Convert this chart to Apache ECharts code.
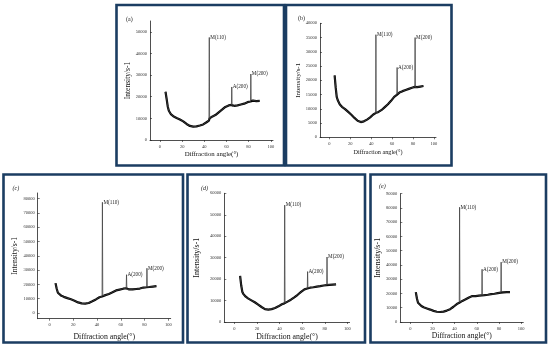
<!DOCTYPE html>
<html>
<head>
<meta charset="utf-8">
<script src="https://cdn.jsdelivr.net/npm/echarts@6/dist/echarts.min.js"></script>
<style>
html,body{margin:0;padding:0;background:#fff;}
#chart{width:550px;height:349px;}
</style>
</head>
<body>
<div id="chart"></div>
<script>
// ---- data ----
const angles = [5, 6, 7, 8, 10, 12, 15, 18, 21, 24, 27, 30, 33, 36, 39, 42, 44.2, 44.5, 44.8, 47, 50, 53, 56, 59, 62, 64.5, 64.8, 65.1, 67, 70, 73, 76, 79, 81.7, 82, 82.3, 84, 87, 90];
const intensityA = [22300, 19000, 15500, 13500, 11800, 11000, 10200, 9500, 8600, 7400, 6500, 6200, 6300, 6700, 7200, 8200, 9000, 47400, 10000, 10800, 11500, 12800, 14000, 15300, 16000, 16200, 24500, 15500, 15800, 16000, 16400, 16800, 17500, 17800, 30500, 18500, 18200, 18000, 18100];
const intensityB = [21700, 17500, 14200, 13000, 11500, 10700, 9900, 8900, 7900, 6800, 5800, 5350, 5600, 6200, 7000, 8000, 8500, 36000, 8400, 8900, 9600, 10600, 11600, 12800, 14200, 14900, 24500, 15300, 15700, 16200, 16600, 17000, 17400, 17700, 35000, 17500, 17600, 17800, 18000];
const intensityC = [20900, 17000, 14200, 13000, 12000, 11300, 10400, 9600, 8600, 7400, 6700, 6600, 7000, 8200, 9500, 11000, 11500, 77500, 12000, 12500, 13300, 14500, 15800, 16400, 17000, 17300, 26800, 16500, 16500, 16500, 16800, 17100, 17800, 18000, 31300, 18100, 18200, 18500, 18800];
const intensityD = [21500, 17000, 14000, 13000, 11800, 11000, 10100, 9200, 8100, 7000, 6000, 5800, 6000, 6500, 7300, 8300, 8700, 54500, 9000, 9500, 10400, 11500, 12700, 14000, 15200, 15600, 23500, 15900, 16000, 16200, 16500, 16700, 17000, 17200, 30300, 17400, 17300, 17400, 17500];
const intensityE = [21000, 16500, 13500, 12300, 11200, 10300, 9500, 8700, 7800, 7200, 7000, 7300, 8000, 9000, 10700, 12600, 13500, 80500, 14000, 14800, 15900, 17200, 18200, 18200, 18500, 18700, 37000, 18700, 18800, 19100, 19500, 19800, 20300, 20600, 42000, 21000, 20800, 21000, 21000];
const peakNames = ['M(110)', 'A(200)', 'M(200)'];
const peakAngles = [44.5, 64.8, 82];
const panelLabels = ['(a)', '(b)', '(c)', '(d)', '(e)'];
const xTickLabels = [0, 20, 40, 60, 80, 100];
const yTicksA = [0, 10000, 20000, 30000, 40000, 50000];
const yTicksB = [0, 5000, 10000, 15000, 20000, 25000, 30000, 35000, 40000];
const yTicksC = [0, 10000, 20000, 30000, 40000, 50000, 60000, 70000, 80000];
const yTicksD = [0, 10000, 20000, 30000, 40000, 50000, 60000];
const yTicksE = [0, 10000, 20000, 30000, 40000, 50000, 60000, 70000, 80000, 90000];
const xTitle = 'Diffraction angle(°)';
const yTitle = 'Intensity/s-1';

// ---- layout (positions / styles only) ----
const series_values = [intensityA, intensityB, intensityC, intensityD, intensityE];
const yTicks = [yTicksA, yTicksB, yTicksC, yTicksD, yTicksE];
const panels = [
  {grid:{left:150, top:21, width:123, height:119}, xmin:-9, xmax:102, ymin:0, ymax:55000, xGap:11, yGap:16, xFs:6.8, yFs:7.5, lab:{left:126, top:16.5}, italic:false, box:[116.5,5,167.5,160.5]},
  {grid:{left:320, top:23.3, width:116, height:114}, xmin:-9, xmax:102, ymin:0, ymax:40000, xGap:12, yGap:17, xFs:6.2, yFs:7, lab:{left:298, top:15}, italic:false, box:[286,5,165.5,160.5]},
  {grid:{left:37.7, top:193, width:133, height:125.7}, xmin:-10, xmax:102, ymin:-4000, ymax:84000, xGap:14, yGap:19, xFs:7.8, yFs:7.6, lab:{left:12.5, top:185}, italic:true, box:[3.5,174.5,179.5,168]},
  {grid:{left:224.3, top:193.3, width:125.3, height:128.7}, xmin:-9, xmax:102, ymin:0, ymax:60000, xGap:11, yGap:23, xFs:7.8, yFs:8, lab:{left:201, top:185}, italic:true, box:[187.5,174.5,177.5,168]},
  {grid:{left:400.3, top:193.7, width:123, height:128.3}, xmin:-9, xmax:102, ymin:0, ymax:90000, xGap:10, yGap:15, xFs:7.6, yFs:8, lab:{left:379, top:183.5}, italic:true, box:[370.5,174.5,175.5,168]}
];
const FONT = 'Liberation Serif';
const plain = v => String(v);

const grids = [], xAxes = [], yAxes = [], series = [], titles = [], graphics = [];
panels.forEach((p, i) => {
  grids.push(Object.assign({containLabel:false}, p.grid));
  xAxes.push({
    type:'value', gridIndex:i, min:p.xmin, max:p.xmax,
    axisLine:{show:true, onZero:false, lineStyle:{color:'#222', width:0.8}},
    axisTick:{show:true, customValues:xTickLabels, length:2, lineStyle:{color:'#222', width:0.6}},
    axisLabel:{customValues:xTickLabels, formatter:plain, fontSize:4.5, margin:4, color:'#333', fontFamily:FONT},
    splitLine:{show:false},
    name:xTitle, nameLocation:'middle', nameGap:p.xGap,
    nameTextStyle:{fontSize:p.xFs, fontFamily:FONT, color:'#111'}
  });
  yAxes.push({
    type:'value', gridIndex:i, min:p.ymin, max:p.ymax,
    axisLine:{show:true, onZero:false, lineStyle:{color:'#222', width:0.8}},
    axisTick:{show:true, inside:true, customValues:yTicks[i], length:2, lineStyle:{color:'#222', width:0.6}},
    axisLabel:{customValues:yTicks[i], formatter:plain, fontSize:4.5, margin:3, color:'#333', fontFamily:FONT},
    splitLine:{show:false},
    name:yTitle, nameLocation:'middle', nameGap:p.yGap, nameRotate:90,
    nameTextStyle:{fontSize:p.yFs, fontFamily:FONT, color:'#111'}
  });
  const vals = series_values[i];
  // thin full trace (includes the sharp reflections)
  const full = angles.map((a, k) => {
    const pk = peakAngles.indexOf(a);
    if (pk >= 0) {
      return {value:[a, vals[k]], label:{show:true, formatter:peakNames[pk], position:'right', distance:1,
        fontSize:5.2, fontFamily:FONT, color:'#222'}};
    }
    return {value:[a, vals[k]]};
  });
  // heavy noisy background trace (reflection tops skipped)
  const base = angles.map((a, k) => peakAngles.indexOf(a) >= 0 ? [a, null] : [a, vals[k]]);
  series.push({
    type:'line', xAxisIndex:i, yAxisIndex:i, data:full, z:3,
    showSymbol:true, symbol:'circle', symbolSize:0, silent:true, animation:false,
    lineStyle:{color:'#444', width:0.8},
    itemStyle:{color:'#000'},
    label:{show:false}
  });
  series.push({
    type:'line', xAxisIndex:i, yAxisIndex:i, data:base, z:2, connectNulls:true,
    showSymbol:false, silent:true, animation:false,
    lineStyle:{color:'#000', width:2.2}
  });
  titles.push({
    text:panelLabels[i], left:p.lab.left, top:p.lab.top, padding:0,
    textStyle:{fontSize:6, fontFamily:FONT, fontWeight:'normal', fontStyle:p.italic?'italic':'normal', color:'#222'}
  });
  graphics.push({
    type:'rect', shape:{x:p.box[0], y:p.box[1], width:p.box[2], height:p.box[3]},
    style:{fill:null, stroke:'#1b3d62', lineWidth:2.6}, silent:true
  });
});

const chart = echarts.init(document.getElementById('chart'), null, {renderer:'canvas'});
chart.setOption({
  backgroundColor:'#ffffff',
  animation:false,
  title:titles,
  grid:grids,
  xAxis:xAxes,
  yAxis:yAxes,
  series:series,
  graphic:graphics
});
</script>
</body>
</html>
